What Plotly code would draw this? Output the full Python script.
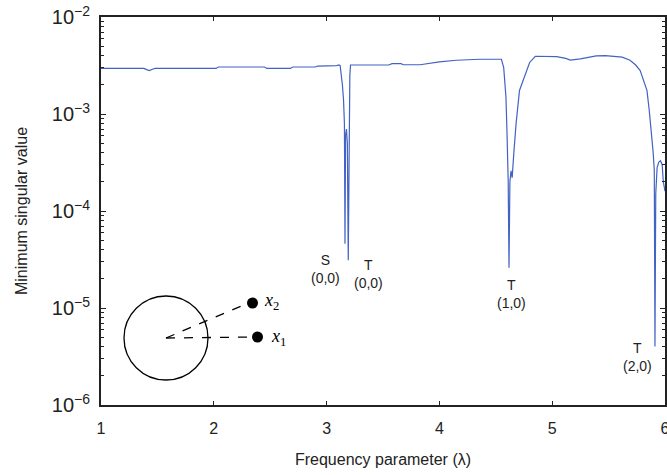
import plotly.graph_objects as go

# ---- data ----
lam = [1.00, 1.38, 1.41, 1.43, 1.45, 1.48, 2.02, 2.04, 2.45, 2.47, 2.68, 2.70, 2.90, 2.92,
       3.09, 3.11, 3.12, 3.13, 3.14, 3.15, 3.158, 3.163, 3.168, 3.176, 3.184, 3.192, 3.200,
       3.206, 3.212, 3.55, 3.58, 3.66, 3.68, 3.83, 4.00, 4.15, 4.36, 4.55, 4.57, 4.59, 4.60,
       4.61, 4.617, 4.625, 4.635, 4.645, 4.66, 4.68, 4.71, 4.76, 4.80, 4.85, 5.04, 5.12,
       5.16, 5.25, 5.39, 5.47, 5.54, 5.62, 5.69, 5.74, 5.78, 5.82, 5.84, 5.86, 5.88, 5.895,
       5.905, 5.911, 5.918, 5.93, 5.945, 5.96, 5.975, 5.985, 6.00]
sv = [2.95e-3, 2.95e-3, 2.85e-3, 2.8e-3, 2.88e-3, 2.95e-3, 2.95e-3, 3.05e-3, 3.05e-3, 2.95e-3,
      2.95e-3, 3.05e-3, 3.05e-3, 3.12e-3, 3.15e-3, 3.2e-3, 3.15e-3, 2.6e-3, 2.0e-3, 1.4e-3,
      8e-4, 4.6e-5, 6e-4, 7e-4, 5e-4, 3.1e-5, 6e-4, 2.5e-3, 3.2e-3, 3.2e-3, 3.3e-3, 3.3e-3,
      3.22e-3, 3.22e-3, 3.45e-3, 3.58e-3, 3.67e-3, 3.67e-3, 3.0e-3, 1.5e-3, 6e-4, 2e-4,
      2.6e-5, 2e-4, 2.6e-4, 2.2e-4, 4e-4, 8e-4, 1.75e-3, 2.6e-3, 3.4e-3, 3.94e-3, 3.9e-3,
      3.75e-3, 3.6e-3, 3.7e-3, 3.97e-3, 4.0e-3, 3.95e-3, 3.85e-3, 3.58e-3, 3.2e-3, 2.8e-3,
      2.1e-3, 1.75e-3, 1.1e-3, 6.5e-4, 4e-4, 2.65e-4, 4e-6, 1.5e-4, 2.8e-4, 3.2e-4, 3.3e-4,
      3.0e-4, 2.0e-4, 1.6e-4]

mode_labels = ["S<br>(0,0)", "T<br>(0,0)", "T<br>(1,0)", "T<br>(2,0)"]
mode_x = [2.986, 3.37, 4.635, 5.76]
mode_y = [-4.60, -4.65, -4.86, -5.51]   # log10 positions

xticks = [1, 2, 3, 4, 5, 6]

FONT = "Liberation Sans, Arial, sans-serif"
AX = "#222222"

fig = go.Figure()
fig.add_trace(go.Scatter(x=lam, y=sv, mode="lines",
                         line=dict(color="rgb(66,98,196)", width=1.2),
                         showlegend=False, hoverinfo="skip"))

for t, x, y in zip(mode_labels, mode_x, mode_y):
    fig.add_annotation(x=x, y=y, text=t, showarrow=False,
                       font=dict(family=FONT, size=14, color="#222"), align="center")

# ---- inset sketch drawn on an overlay pixel-like axis ----
PW, PH = 564, 388
cx, cy, r = 65, 321, 42
dots = [(156.5, 320), (151.5, 286)]
fig.add_trace(go.Scatter(x=[d[0] for d in dots], y=[d[1] for d in dots], mode="markers",
                         marker=dict(color="black", size=11), xaxis="x2", yaxis="y2",
                         showlegend=False, hoverinfo="skip"))
fig.add_shape(type="circle", xref="x2", yref="y2", x0=cx - r, x1=cx + r, y0=cy - r, y1=cy + r,
              line=dict(color="black", width=1.3))
for dx, dy in dots:
    fig.add_shape(type="line", xref="x2", yref="y2", x0=cx, y0=cy, x1=dx - 4, y1=dy,
                  line=dict(color="black", width=1.3, dash="dash"))
fig.add_annotation(xref="x2", yref="y2", x=168, y=320, xanchor="left", yanchor="middle",
                   text="<i>x</i><sub>1</sub>", showarrow=False,
                   font=dict(family="Liberation Serif, Times New Roman, serif", size=18, color="black"))
fig.add_annotation(xref="x2", yref="y2", x=161, y=284, xanchor="left", yanchor="middle",
                   text="<i>x</i><sub>2</sub>", showarrow=False,
                   font=dict(family="Liberation Serif, Times New Roman, serif", size=18, color="black"))

fig.update_layout(
    width=667, height=475,
    margin=dict(l=101, r=2, t=17, b=70),
    paper_bgcolor="white", plot_bgcolor="white",
    font=dict(family=FONT, size=16, color="#222"),
    xaxis=dict(range=[1, 6], tickvals=xticks, ticks="inside", ticklen=4, tickwidth=1.2,
               tickcolor=AX, showline=True, linecolor=AX, linewidth=1.6, mirror="allticks",
               showgrid=False, zeroline=False, automargin=False, ticklabelstandoff=8,
               ticklabeloverflow="allow",
               title=dict(text="Frequency parameter (λ)", font=dict(size=16), standoff=18),
               tickfont=dict(size=16)),
    yaxis=dict(type="log", range=[-6, -2], dtick=1, exponentformat="power",
               ticks="inside", ticklen=5, tickwidth=1.2, tickcolor=AX,
               showline=True, linecolor=AX, linewidth=1.6, mirror="allticks",
               showgrid=False, zeroline=False, ticklabelstandoff=6, automargin=False,
               ticklabeloverflow="allow",
               minor=dict(ticks="inside", ticklen=3, tickcolor=AX, tickwidth=1, showgrid=False),
               title=dict(text="Minimum singular value", font=dict(size=16), standoff=20),
               tickfont=dict(size=16)),
    xaxis2=dict(range=[0, PW], overlaying="x", visible=False, fixedrange=True),
    yaxis2=dict(range=[PH, 0], overlaying="y", visible=False, fixedrange=True),
)

# remove the default 8px page margin so the figure sits at the window origin
fig.write_html("out.html", config={"displayModeBar": False},
               post_script="document.body.style.margin='0';")
